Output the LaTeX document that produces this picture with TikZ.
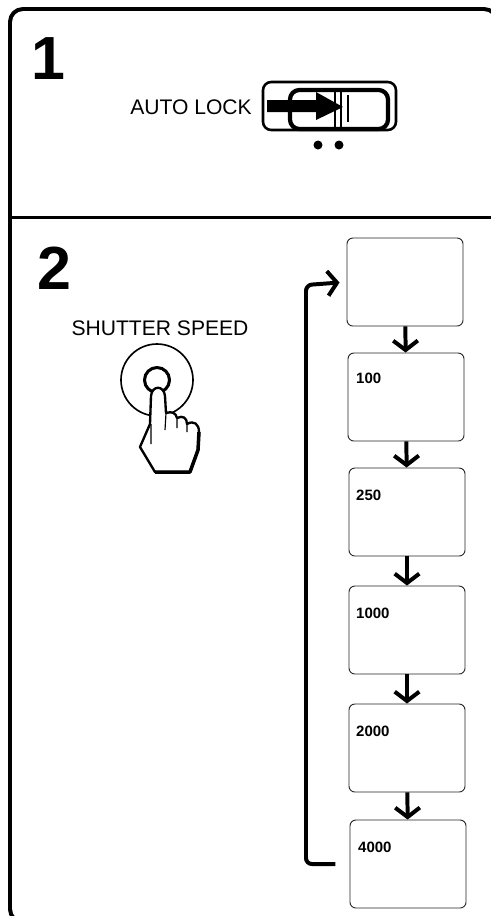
\documentclass[tikz,border=0pt]{standalone}
\usepackage{fontspec}
\setmainfont{Liberation Sans}
\usetikzlibrary{arrows.meta}

\begin{document}
\begin{tikzpicture}[x=0.3mm, y=-0.3mm, line join=round,
    % one pixel of the reference is one unit here
    panel/.style={draw=black, line width=3.4pt},
    stepnum/.style={font=\fontsize{52}{52}\selectfont\bfseries, inner sep=0pt},
    caption/.style={font=\fontsize{18}{20}\selectfont, inner sep=0pt},
    shotbox/.style={draw=black!85, line width=0.8pt, rounded corners=5pt,
                    minimum width=116*0.3mm, minimum height=88*0.3mm,
                    inner sep=0pt},
    shotlab/.style={font=\fontsize{12.8}{13}\selectfont\bfseries, inner sep=0pt, anchor=west},
    flow/.style={line width=3.4pt, -{Straight Barb[length=8pt, width=21pt, line width=3.4pt]}}]

  \useasboundingbox (0,0) rectangle (491,916);

  % ---- the frame and its divider
  \draw[panel, rounded corners=11pt] (497,40) -- (497,9) -- (10,9) -- (10,922) -- (60,922);
  \draw[panel, line width=2.2pt] (10,217.5) -- (491,217.5);

  % ---- step one: the switch
  \node[stepnum] (one) at (48,59) {1};
  \node[caption, anchor=east] (autolock) at (252,107.5) {AUTO LOCK};
  \draw[line width=2.2pt, rounded corners=7pt] (263,82) rectangle (396,130);
  \draw[line width=3.6pt, rounded corners=8pt] (290,90) rectangle (388,129);
  \draw[line width=1.6pt] (335,91) -- (335,128) (341,91) -- (341,128);
  \draw[line width=1.6pt] (348,95) -- (348,122);
  \fill (267,100) -- (316,100) -- (316,92) -- (343,107) -- (316,120) -- (316,112) -- (267,112) -- cycle;
  \fill (318,145) circle (4.5) (339,145) circle (4.5);

  % ---- step two: the button and the hand
  \node[stepnum] (two) at (54,268) {2};
  \node[caption] (speed) at (160,328) {SHUTTER SPEED};
  \draw[line width=1.4pt] (157,380) circle (36);
  \draw[line width=2.6pt] (157,380) circle (12.5);
  \filldraw[fill=white, line width=2pt]
    (150,424) -- (151,396) .. controls (152,385) and (164,385) .. (165,396)
    -- (166,413) .. controls (172,411) and (176,413) .. (177,418)
    .. controls (183,415) and (187,418) .. (187,424)
    .. controls (194,420) and (199,424) .. (199,432)
    -- (198,450) -- (190,472) -- (155,472) -- (140,447) -- cycle;
  \draw[line width=3pt] (199,432) -- (198,450) -- (190,472) -- (155,472);
  \draw[line width=1pt] (166,413) -- (165,430) (177,418) -- (177,428) (187,424) -- (187,432)
    (151,424) -- (151,444);

  % ---- the shutter settings, top to bottom
  \node[shotbox] (s0) at (405,282) {};
  \node[shotbox] (s100) at (406,397) {};
  \node[shotbox] (s250) at (407,512) {};
  \node[shotbox] (s1000) at (407,630) {};
  \node[shotbox] (s2000) at (407,748) {};
  \node[shotbox] (s4000) at (408,864) {};

  \node[shotlab] (t100) at (356,378) {100};
  \node[shotlab] (t250) at (356,495) {250};
  \node[shotlab] (t1000) at (356,613) {1000};
  \node[shotlab] (t2000) at (356,731) {2000};
  \node[shotlab] (t4000) at (358,847) {4000};

  % ---- arrows between them, and the way back up
  \draw[flow] (s0) -- (s100);
  \draw[flow] (s100) -- (s250);
  \draw[flow] (s250) -- (s1000);
  \draw[flow] (s1000) -- (s2000);
  \draw[flow] (s2000) -- (s4000);
  \draw[flow, rounded corners=5pt, shorten <=12pt, shorten >=6pt] (s4000.west) -- (306,864) -- (306,285) -- (s0.west);
\end{tikzpicture}
\end{document}
